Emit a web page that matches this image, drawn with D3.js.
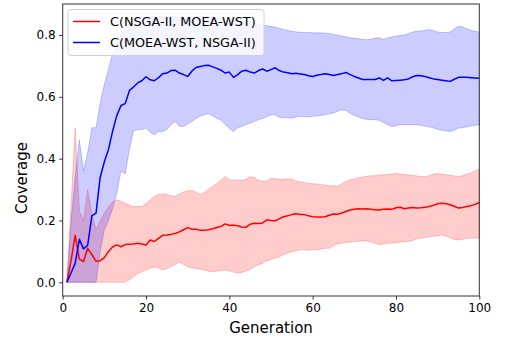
<!DOCTYPE html>
<html><head><meta charset="utf-8">
<script src="https://cdn.jsdelivr.net/npm/d3@7"></script>
<style>body{margin:0;background:#fff}svg{display:block}text{font-family:"DejaVu Sans",sans-serif}</style>
</head><body>
<svg id="c" width="506" height="351"></svg>
<script>
const generations = d3.range(1, 101);
const seriesNames = ["C(NSGA-II, MOEA-WST)", "C(MOEA-WST, NSGA-II)"];
const xTicks = [0, 20, 40, 60, 80, 100];
const yTicks = [0.0, 0.2, 0.4, 0.6, 0.8];

const redMean = [0,0.07,0.152,0.075,0.067,0.11,0.09,0.068,0.07,0.08,
0.1,0.115,0.121,0.115,0.122,0.123,0.124,0.126,0.124,0.121,
0.137,0.132,0.142,0.152,0.153,0.155,0.158,0.163,0.17,0.177,
0.172,0.172,0.168,0.168,0.17,0.173,0.177,0.181,0.189,0.184,
0.185,0.183,0.179,0.178,0.188,0.191,0.19,0.192,0.202,0.2,
0.199,0.205,0.212,0.215,0.219,0.222,0.219,0.219,0.215,0.212,
0.211,0.211,0.212,0.217,0.221,0.22,0.224,0.229,0.234,0.236,
0.238,0.237,0.238,0.236,0.235,0.234,0.236,0.237,0.236,0.241,
0.243,0.238,0.24,0.242,0.24,0.241,0.243,0.245,0.249,0.254,
0.256,0.254,0.251,0.246,0.24,0.242,0.245,0.248,0.252,0.258];

const redUpper = [0,0.25,0.5,0.23,0.2,0.3,0.22,0.17,0.2,0.225,
0.245,0.26,0.267,0.262,0.256,0.25,0.245,0.245,0.245,0.255,
0.266,0.278,0.284,0.286,0.285,0.28,0.278,0.286,0.292,0.296,
0.297,0.292,0.284,0.29,0.302,0.31,0.32,0.33,0.342,0.332,
0.33,0.332,0.33,0.333,0.342,0.338,0.33,0.327,0.328,0.336,
0.336,0.333,0.333,0.335,0.334,0.328,0.325,0.323,0.32,0.319,
0.318,0.316,0.314,0.312,0.312,0.311,0.318,0.326,0.332,0.334,
0.338,0.341,0.343,0.345,0.345,0.347,0.348,0.348,0.35,0.353,
0.35,0.348,0.348,0.346,0.344,0.342,0.342,0.345,0.35,0.353,
0.35,0.348,0.347,0.344,0.342,0.345,0.35,0.354,0.36,0.366];

const redLower = [0,0,0,0,0,0,0,0,0,0,
0,0,0,0,0,0.008,0.018,0.028,0.034,0.04,
0.045,0.05,0.046,0.04,0.045,0.05,0.058,0.066,0.058,0.05,
0.047,0.045,0.042,0.04,0.036,0.034,0.036,0.038,0.04,0.037,
0.033,0.03,0.032,0.036,0.042,0.05,0.056,0.062,0.07,0.074,
0.078,0.082,0.09,0.095,0.099,0.102,0.105,0.105,0.104,0.105,
0.105,0.107,0.11,0.11,0.118,0.124,0.127,0.128,0.13,0.132,
0.133,0.134,0.134,0.13,0.126,0.122,0.124,0.126,0.126,0.128,
0.13,0.131,0.132,0.135,0.14,0.143,0.145,0.147,0.149,0.15,
0.153,0.15,0.143,0.139,0.137,0.139,0.142,0.143,0.143,0.143];

const blueMean = [0,0.03,0.062,0.139,0.108,0.12,0.215,0.224,0.34,0.39,
0.43,0.49,0.54,0.572,0.578,0.62,0.632,0.645,0.652,0.665,
0.655,0.652,0.662,0.675,0.677,0.685,0.686,0.677,0.672,0.666,
0.683,0.695,0.698,0.701,0.702,0.697,0.692,0.686,0.677,0.68,
0.663,0.672,0.683,0.686,0.68,0.677,0.685,0.69,0.683,0.688,
0.694,0.685,0.68,0.678,0.675,0.676,0.674,0.672,0.668,0.666,
0.67,0.672,0.675,0.672,0.669,0.672,0.675,0.679,0.672,0.666,
0.661,0.656,0.656,0.656,0.656,0.661,0.653,0.661,0.652,0.653,
0.654,0.655,0.658,0.665,0.669,0.668,0.666,0.662,0.658,0.656,
0.654,0.652,0.65,0.657,0.663,0.663,0.663,0.662,0.661,0.66];

const blueUpper = [0,0.2,0.34,0.46,0.36,0.42,0.5,0.5,0.58,0.64,
0.69,0.74,0.775,0.8,0.82,0.835,0.845,0.855,0.86,0.86,
0.86,0.86,0.86,0.86,0.86,0.86,0.86,0.855,0.855,0.855,
0.86,0.86,0.86,0.86,0.86,0.858,0.855,0.85,0.85,0.848,
0.845,0.845,0.845,0.845,0.84,0.838,0.835,0.832,0.83,0.828,
0.826,0.822,0.818,0.815,0.812,0.81,0.809,0.808,0.808,0.807,
0.807,0.807,0.806,0.805,0.802,0.8,0.797,0.794,0.791,0.79,
0.788,0.786,0.785,0.786,0.79,0.791,0.786,0.79,0.794,0.796,
0.799,0.8,0.805,0.81,0.812,0.813,0.815,0.818,0.814,0.81,
0.808,0.808,0.81,0.82,0.828,0.826,0.82,0.815,0.812,0.81];

const blueLower = [0,0,0,0,0,0,0,0,0.1,0.17,
0.2,0.24,0.29,0.36,0.35,0.43,0.49,0.494,0.494,0.499,
0.485,0.477,0.488,0.488,0.494,0.51,0.52,0.505,0.504,0.512,
0.52,0.53,0.537,0.542,0.546,0.538,0.53,0.524,0.51,0.498,
0.488,0.5,0.504,0.51,0.515,0.52,0.526,0.53,0.536,0.542,
0.542,0.534,0.532,0.532,0.531,0.535,0.537,0.536,0.535,0.537,
0.538,0.54,0.542,0.545,0.548,0.553,0.558,0.556,0.546,0.54,
0.535,0.53,0.527,0.526,0.526,0.524,0.516,0.51,0.504,0.506,
0.51,0.51,0.51,0.51,0.51,0.508,0.505,0.503,0.499,0.495,
0.492,0.49,0.488,0.493,0.499,0.5,0.503,0.506,0.508,0.51];

const svg = d3.select("#c");
const L = 62.7, R = 479.3, T = 4, B = 296;
const x = d3.scaleLinear().domain([0, 100]).range([L, R]);
const y = d3.scaleLinear().domain([-0.0443, 0.9003]).range([B, T]);

const series = [
  {name: seriesNames[0], mean: redMean, lo: redLower, hi: redUpper, color: "#ff0000", fill: "rgba(255,0,0,0.2)"},
  {name: seriesNames[1], mean: blueMean, lo: blueLower, hi: blueUpper, color: "#0000ff", fill: "rgba(0,0,255,0.2)"}
];

const area = (s) => d3.area().x((d, i) => x(generations[i])).y0((d, i) => y(s.lo[i])).y1((d, i) => y(s.hi[i]));
const line = (s) => d3.line().x((d, i) => x(generations[i])).y((d) => y(d));

const plot = svg.append("g");
series.forEach(s => {
  plot.append("path").datum(s.mean).attr("d", area(s)).attr("fill", s.fill).attr("stroke", s.fill).attr("stroke-width", 1);
});
series.forEach(s => {
  plot.append("path").datum(s.mean).attr("d", line(s)).attr("fill", "none").attr("stroke", s.color).attr("stroke-width", 1.5).attr("stroke-linejoin", "round");
});

// axes
const xAxis = svg.append("g").attr("transform", `translate(0,${B})`)
  .call(d3.axisBottom(x).tickValues(xTicks).tickFormat(d3.format("d")).tickSize(3.5).tickPadding(3.5));
const yAxis = svg.append("g").attr("transform", `translate(${L},0)`)
  .call(d3.axisLeft(y).tickValues(yTicks).tickFormat(d3.format(".1f")).tickSize(3.5).tickPadding(3.5));
[xAxis, yAxis].forEach(g => {
  g.select(".domain").remove();
  g.selectAll(".tick line").attr("stroke", "#000").attr("stroke-width", 0.8);
  g.selectAll(".tick text").attr("font-size", 12).attr("fill", "#000").attr("font-family", "DejaVu Sans");
});

// frame
svg.append("rect").attr("x", L).attr("y", T).attr("width", R - L).attr("height", B - T)
  .attr("fill", "none").attr("stroke", "#333").attr("stroke-width", 1);

// axis labels
svg.append("text").attr("x", (L + R) / 2).attr("y", 333).attr("text-anchor", "middle")
  .attr("font-size", 15).text("Generation");
svg.append("text").attr("transform", "translate(27,178) rotate(-90)").attr("text-anchor", "middle")
  .attr("font-size", 15).text("Coverage");

// legend
const lg = svg.append("g");
lg.append("rect").attr("x", 68).attr("y", 9.5).attr("width", 196).attr("height", 46).attr("rx", 3)
  .attr("fill", "rgba(255,255,255,0.8)").attr("stroke", "#d0d0d0").attr("stroke-width", 1);
series.forEach((s, i) => {
  const yy = 21.5 + i * 21;
  lg.append("line").attr("x1", 73).attr("x2", 100).attr("y1", yy).attr("y2", yy)
    .attr("stroke", s.color).attr("stroke-width", 1.5);
  lg.append("text").attr("x", 110).attr("y", yy + 4.6).attr("font-size", 12.8).attr("fill", "#000").text(s.name);
});
</script>
</body></html>
